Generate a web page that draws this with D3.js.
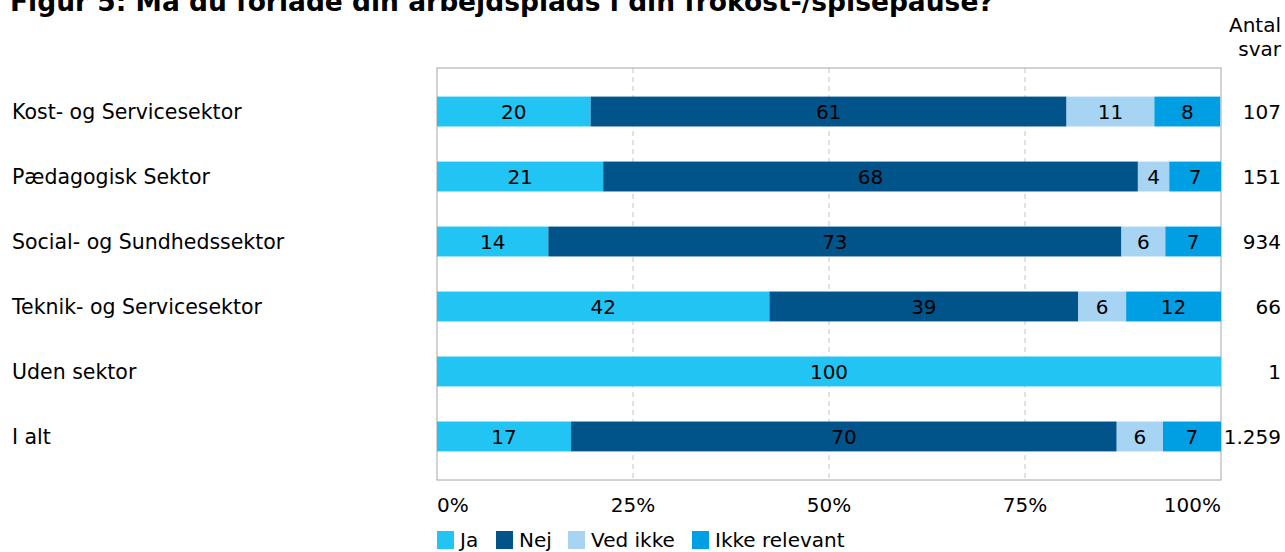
<!DOCTYPE html>
<html>
<head>
<meta charset="utf-8">
<script src="https://cdn.jsdelivr.net/npm/d3@7"></script>
<style>
  body { margin: 0; background: #fff; }
  svg text { font-family: "DejaVu Sans", Verdana, sans-serif; fill: #000; font-size: 20px; }
</style>
</head>
<body>
<svg id="chart" width="1285" height="552"></svg>
<script>
// answers per sector, share in percent (labels are rounded)
var categories = ["Kost- og Servicesektor", "Pædagogisk Sektor", "Social- og Sundhedssektor",
                  "Teknik- og Servicesektor", "Uden sektor", "I alt"];
var seriesNames = ["Ja", "Nej", "Ved ikke", "Ikke relevant"];
var ja          = [19.6, 21.2, 14.2, 42.4, 100, 17.1];
var nej         = [60.7, 68.2, 73.1, 39.4, 0, 69.6];
var vedIkke     = [11.2, 4.0, 5.6, 6.1, 0, 5.9];
var ikkeRelevant= [8.4, 6.6, 7.1, 12.1, 0, 7.4];
var antalSvar   = ["107", "151", "934", "66", "1", "1.259"];
var xTicks      = [0, 25, 50, 75, 100];
var colors      = ["#21c4f3", "#00548a", "#a8d4f4", "#009fe3"];

var svg = d3.select("#chart");
var box = {left: 437, right: 1221, top: 68, bottom: 480};

var x = d3.scaleLinear().domain([0, 100]).range([box.left, box.right]);
var y = d3.scaleBand().domain(categories).range([box.top, box.bottom])
  .paddingInner(0.54).paddingOuter(0.44);

var rows = categories.map(function(c, i){
  return {cat: c, Ja: ja[i], Nej: nej[i], "Ved ikke": vedIkke[i], "Ikke relevant": ikkeRelevant[i]};
});
var stacked = d3.stack().keys(seriesNames)(rows);

// title (cut off at top in original)
svg.append("text")
  .attr("x", 10).attr("y", 11)
  .style("font-weight", "bold").style("font-size", "26.5px")
  .text("Figur 5: Må du forlade din arbejdsplads i din frokost-/spisepause?");

// grid
svg.append("g").selectAll("line")
  .data([25, 50, 75]).enter().append("line")
    .attr("x1", x).attr("x2", x)
    .attr("y1", box.top).attr("y2", box.bottom)
    .attr("stroke", "#c4c4c4").attr("stroke-dasharray", "5,4");

svg.append("rect")
  .attr("x", box.left).attr("y", box.top)
  .attr("width", box.right - box.left).attr("height", box.bottom - box.top)
  .attr("fill", "none").attr("stroke", "#a6a6a6");

// bars
var layers = svg.append("g").selectAll("g.layer")
  .data(stacked).enter().append("g")
    .attr("class", "layer")
    .attr("fill", function(d, i){ return colors[i]; });

layers.selectAll("rect")
  .data(function(d){ return d; })
  .enter().append("rect")
    .attr("x", function(d){ return x(d[0]); })
    .attr("y", function(d){ return y(d.data.cat); })
    .attr("width", function(d){ return x(d[1]) - x(d[0]); })
    .attr("height", y.bandwidth());

layers.selectAll("text")
  .data(function(d){ return d.filter(function(e){ return e[1] - e[0] > 0; }); })
  .enter().append("text")
    .attr("x", function(d){ return (x(d[0]) + x(d[1])) / 2; })
    .attr("y", function(d){ return y(d.data.cat) + y.bandwidth() / 2; })
    .attr("dy", "0.38em")
    .attr("text-anchor", "middle")
    .text(function(d){ return Math.round(d[1] - d[0]); });

// category labels
svg.append("g").selectAll("text")
  .data(categories).enter().append("text")
    .attr("x", 12)
    .attr("y", function(d){ return y(d) + y.bandwidth() / 2; })
    .attr("dy", "0.38em")
    .style("font-size", "20.5px")
    .text(function(d){ return d; });

// antal svar
svg.append("g").selectAll("text")
  .data(antalSvar).enter().append("text")
    .attr("x", 1281)
    .attr("y", function(d, i){ return y(categories[i]) + y.bandwidth() / 2; })
    .attr("dy", "0.38em")
    .attr("text-anchor", "end")
    .text(function(d){ return d; });

svg.append("text").attr("x", 1281).attr("y", 32).attr("text-anchor", "end").text("Antal");
svg.append("text").attr("x", 1281).attr("y", 56).attr("text-anchor", "end").text("svar");

// x axis labels
svg.append("g").selectAll("text")
  .data(xTicks).enter().append("text")
    .attr("x", x)
    .attr("y", 512)
    .attr("text-anchor", function(d){ return d == 0 ? "start" : d == 100 ? "end" : "middle"; })
    .text(function(d){ return d + "%"; });

// legend
var legendX = [437, 496, 568, 692];
var legend = svg.append("g").selectAll("g")
  .data(seriesNames).enter().append("g")
    .attr("transform", function(d, i){ return "translate(" + legendX[i] + ",531)"; });
legend.append("rect")
  .attr("width", 17).attr("height", 18)
  .attr("fill", function(d, i){ return colors[i]; });
legend.append("text")
  .attr("x", 23).attr("y", 16)
  .text(function(d){ return d; });
</script>
</body>
</html>
